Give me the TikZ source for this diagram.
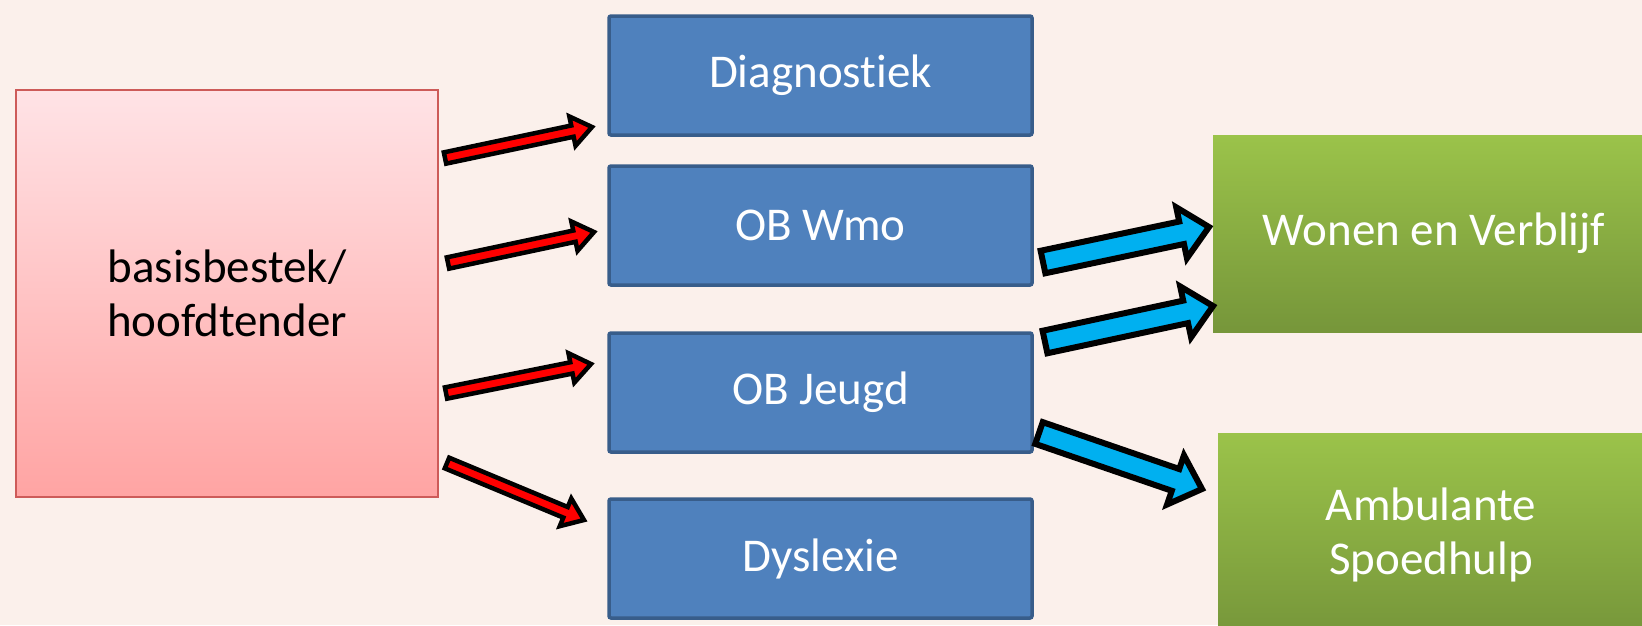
\documentclass[tikz,border=0pt]{standalone}
\usepackage{fontspec}
\setmainfont{Carlito}[Ligatures=NoCommon]
\usetikzlibrary{calc}
\definecolor{bgc}{HTML}{FBF0EB}
\definecolor{pinktop}{HTML}{FFE3E6}
\definecolor{pinkbot}{HTML}{FFA4A3}
\definecolor{pinkedge}{HTML}{CD5B59}
\definecolor{bluefill}{HTML}{4F81BD}
\definecolor{blueedge}{HTML}{385D8A}
\definecolor{greentop}{HTML}{9BC34A}
\definecolor{greenbot}{HTML}{76963A}
\definecolor{arrred}{HTML}{FF0000}
\definecolor{arrblue}{HTML}{00B0F0}
\newcommand\blkarrow[7]{%
  \coordinate (ahb) at ($(#2)!#5!(#1)$);
  \draw[line width=#7, line join=miter, miter limit=10, fill=#6]
    ($(#1)!#3!90:(#2)$) -- ($(ahb)!#3!90:(#2)$) -- ($(ahb)!#4!90:(#2)$) -- (#2)
    -- ($(ahb)!#4!-90:(#2)$) -- ($(ahb)!#3!-90:(#2)$) -- ($(#1)!#3!-90:(#2)$) -- cycle;
}
\tikzset{
  txt/.style={font=\fontsize{47}{54}\selectfont, align=center},
  pinkbox/.style={txt, rectangle, draw=pinkedge, line width=1.5pt, top color=pinktop, bottom color=pinkbot, text=black, minimum width=422pt, minimum height=407pt, inner sep=0pt},
  bluebox/.style={txt, rectangle, rounded corners=2pt, draw=blueedge, line width=3.5pt, fill=bluefill, text=white, minimum width=423pt, minimum height=119pt, inner sep=0pt},
  greenbox/.style={txt, rectangle, top color=greentop, bottom color=greenbot, text=white, inner sep=0pt},
}
\begin{document}
\begin{tikzpicture}[x=1pt,y=-1pt]
\path[use as bounding box, fill=bgc] (0,0) rectangle (1642,625);
\clip (0,0) rectangle (1642,625);
\node[pinkbox] (basis) at (227,293.5) {basisbestek/\\hoofdtender};
\node[bluebox] (diag) at (820.5,75.5) {Diagnostiek};
\node[bluebox] (wmo) at (820.5,225.5) {OB Wmo};
\node[bluebox] (jeugd) at (820.5,392.5) {OB Jeugd};
\node[bluebox] (dys) at (820.5,558.5) {Dyslexie};
\node[greenbox, minimum width=442pt, minimum height=197pt] (wonen) at (1434,233.5) {Wonen en Verblijf};
\node[greenbox, minimum width=426pt, minimum height=204pt] (amb) at (1431,535) {Ambulante\\Spoedhulp};
% arrow end points
\coordinate (r1s) at (445,158); \coordinate (r1e) at (592,127);
\coordinate (r2s) at (448,263); \coordinate (r2e) at (594,232);
\coordinate (r3s) at (446,393); \coordinate (r3e) at (591,364);
\coordinate (r4s) at (447,463); \coordinate (r4e) at (584,520);
\coordinate (b1s) at (1043,262); \coordinate (b1e) at (1209,227);
\coordinate (b2s) at (1045,342); \coordinate (b2e) at (1213,306);
\coordinate (b3s) at (1039,433); \coordinate (b3e) at (1202,489);
\blkarrow{r1s}{r1e}{5.75pt}{15pt}{20pt}{arrred}{4.5pt}
\blkarrow{r2s}{r2e}{5.75pt}{15pt}{20pt}{arrred}{4.5pt}
\blkarrow{r3s}{r3e}{5.75pt}{15pt}{20pt}{arrred}{4.5pt}
\blkarrow{r4s}{r4e}{5.75pt}{15pt}{20pt}{arrred}{4.5pt}
\blkarrow{b1s}{b1e}{11.5pt}{26pt}{28pt}{arrblue}{6pt}
\blkarrow{b2s}{b2e}{11.5pt}{26pt}{28pt}{arrblue}{6pt}
\blkarrow{b3s}{b3e}{11.5pt}{26pt}{28pt}{arrblue}{6pt}
\end{tikzpicture}
\end{document}
